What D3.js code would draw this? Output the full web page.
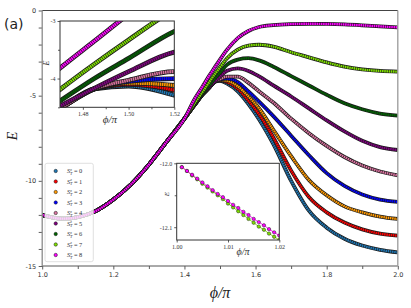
<!DOCTYPE html>
<meta charset="utf-8">
<html>
<head>
<style>
  body { margin: 0; background: #fff; }
  svg text { font-family: "DejaVu Sans", sans-serif; }
  .math { font-family: "Liberation Serif", "DejaVu Serif", serif; }
</style>
<script src="https://cdn.jsdelivr.net/npm/d3@7"></script>
</head>
<body>
<script>

// ---- data ----
var spins = [0, 1, 2, 3, 4, 5, 6, 7, 8];
var colors = ["#1f77b4", "#ff0000", "#ff9900", "#0000ff", "#d8739f", "#800080", "#006400", "#7fe000", "#ff00ff"];

// shared branch, all S values lie on top of each other here
var phiRise = [1.00, 1.03, 1.055, 1.08, 1.11, 1.15, 1.20, 1.25, 1.30, 1.35, 1.40];
var eRise   = [-12.0, -12.16, -12.22, -12.2, -12.08, -11.78, -11.1, -10.2, -9.05, -7.7, -6.35];

// after the branches split
var phiSplit = [1.43, 1.45, 1.47, 1.485, 1.50, 1.52, 1.55, 1.58, 1.61, 1.65, 1.70, 1.75, 1.80, 1.85, 1.90, 1.95, 2.00];
var eS0 = [-5.5, -4.95, -4.52, -4.18, -4.13, -4.29, -4.75, -5.5, -6.4, -7.85, -10.0, -11.75, -12.75, -13.4, -13.8, -14.05, -14.2];
var eS1 = [-5.5, -4.95, -4.52, -4.18, -4.1, -4.2, -4.6, -5.3, -6.1, -7.45, -9.4, -10.95, -11.85, -12.45, -12.85, -13.1, -13.22];
var eS2 = [-5.5, -4.95, -4.52, -4.18, -4.08, -4.12, -4.45, -5.05, -5.75, -7.0, -8.55, -9.95, -10.85, -11.5, -11.85, -12.1, -12.24];
var eS3 = [-5.5, -4.95, -4.52, -4.18, -4.05, -4.0, -4.2, -4.75, -5.35, -6.2, -7.35, -8.5, -9.55, -10.3, -10.8, -11.1, -11.23];
var eS4 = [-5.5, -4.95, -4.52, -4.18, -4.03, -3.88, -3.88, -4.25, -4.75, -5.4, -6.35, -7.2, -7.95, -8.6, -9.1, -9.45, -9.68];
var eS5 = [-5.5, -4.95, -4.48, -4.17, -3.88, -3.54, -3.4, -3.55, -3.87, -4.4, -5.05, -5.75, -6.45, -7.1, -7.65, -8.02, -8.19];
var eS6 = [-5.45, -4.9, -4.39, -4.0, -3.65, -3.18, -2.88, -2.8, -2.93, -3.3, -3.85, -4.4, -4.95, -5.45, -5.8, -6.05, -6.17];
var eS7 = [-5.4, -4.8, -4.19, -3.75, -3.33, -2.8, -2.3, -2.06, -2.01, -2.12, -2.45, -2.75, -3.05, -3.3, -3.46, -3.55, -3.59];
var eS8 = [-5.15, -4.5, -3.82, -3.35, -2.88, -2.3, -1.62, -1.2, -0.97, -0.86, -0.8, -0.78, -0.79, -0.82, -0.87, -0.93, -0.99];
var eSeries = [eS0, eS1, eS2, eS3, eS4, eS5, eS6, eS7, eS8];

// lower-right inset: first points near phi/pi = 1
var phiZoom = [1.001, 1.002, 1.003, 1.004, 1.005, 1.006, 1.007, 1.008, 1.009, 1.010,
               1.011, 1.012, 1.013, 1.014, 1.015, 1.016, 1.017, 1.018, 1.019, 1.020];
var eZoomS8 = [-12.006, -12.012, -12.018, -12.024, -12.030, -12.036, -12.042, -12.048, -12.053, -12.059,
               -12.065, -12.070, -12.076, -12.081, -12.087, -12.092, -12.097, -12.103, -12.108, -12.113];
var eZoomS7 = [-12.006, -12.012, -12.019, -12.025, -12.032, -12.038, -12.044, -12.050, -12.056, -12.063,
               -12.069, -12.075, -12.081, -12.087, -12.093, -12.099, -12.104, -12.110, -12.115, -12.120];

var xTicks = [1.0, 1.2, 1.4, 1.6, 1.8, 2.0];
var xMinor = [1.1, 1.3, 1.5, 1.7, 1.9];
var yTicks = [0, -5, -10, -15];
var yMinor = [-1, -2, -3, -4, -6, -7, -8, -9, -11, -12, -13, -14];

// ---- layout ----
var width = 411, height = 308;
var svg = d3.select("body").append("svg")
    .attr("width", width)
    .attr("height", height);

var x = d3.scaleLinear().domain([1, 2]).range([42.2, 397.8]);
var y = d3.scaleLinear().domain([-15, 0]).range([266, 10.5]);

function seriesPoints(i) {
    var a = phiRise.map(function(p, k) { return [p, eRise[k]]; });
    var b = phiSplit.map(function(p, k) { return [p, eSeries[i][k]]; });
    return a.concat(b);
}

function styleAxis(g, size) {
    g.select(".domain").remove();
    g.selectAll(".tick line").attr("stroke", "#333").attr("stroke-width", 0.8);
    g.selectAll(".tick text").attr("fill", "#333").attr("font-size", size);
}

// draws the thick "marker chain" look of each series
function drawBands(g, xs, ys, outer, inner) {
    var line = d3.line()
        .x(function(d) { return xs(d[0]); })
        .y(function(d) { return ys(d[1]); })
        .curve(d3.curveMonotoneX);
    spins.forEach(function(s, i) {
        var pts = seriesPoints(i);
        g.append("path").attr("d", line(pts))
            .attr("fill", "none").attr("stroke", "#1a1a1a").attr("stroke-width", outer);
        g.append("path").attr("d", line(pts))
            .attr("fill", "none").attr("stroke", colors[i]).attr("stroke-width", inner)
            .attr("stroke-dasharray", "1.6,0.6");
    });
}

// ---- main panel ----
svg.append("clipPath").attr("id", "clipMain").append("rect")
    .attr("x", x(1)).attr("y", y(0))
    .attr("width", x(2) - x(1)).attr("height", y(-15) - y(0));

var main = svg.append("g").attr("clip-path", "url(#clipMain)");
drawBands(main, x, y, 3.8, 2.4);

// axes
var gx = svg.append("g").attr("transform", "translate(0," + y(-15) + ")")
    .call(d3.axisBottom(x).tickValues(xTicks).tickSize(3.5).tickPadding(2.5).tickFormat(d3.format(".1f")));
styleAxis(gx, 6.5);
var gxm = svg.append("g").attr("transform", "translate(0," + y(-15) + ")")
    .call(d3.axisBottom(x).tickValues(xMinor).tickSize(3).tickFormat(""));
styleAxis(gxm, 6.5);

var gy = svg.append("g").attr("transform", "translate(" + x(1) + ",0)")
    .call(d3.axisLeft(y).tickValues(yTicks).tickSize(3.5).tickPadding(2.5).tickFormat(function(d) { return String(d); }));
styleAxis(gy, 6.5);
var gym = svg.append("g").attr("transform", "translate(" + x(1) + ",0)")
    .call(d3.axisLeft(y).tickValues(yMinor).tickSize(3.5).tickFormat(""));
styleAxis(gym, 6.5);

// spines
svg.append("line").attr("x1", x(1)).attr("x2", x(2)).attr("y1", y(0)).attr("y2", y(0))
    .attr("stroke", "#444").attr("stroke-width", 1);
svg.append("line").attr("x1", x(1)).attr("x2", x(2)).attr("y1", y(-15)).attr("y2", y(-15))
    .attr("stroke", "#555").attr("stroke-width", 1);
svg.append("line").attr("x1", x(1)).attr("x2", x(1)).attr("y1", y(0)).attr("y2", y(-15))
    .attr("stroke", "#8a8a8a").attr("stroke-width", 1.3);
svg.append("line").attr("x1", x(2)).attr("x2", x(2)).attr("y1", y(0)).attr("y2", y(-15))
    .attr("stroke", "#9a9a9a").attr("stroke-width", 1.3);

// axis titles
svg.append("text").attr("class", "math")
    .attr("transform", "translate(17,136) rotate(-90)")
    .attr("text-anchor", "middle").attr("font-size", 14).attr("font-style", "italic")
    .attr("fill", "#222").text("E");
svg.append("text").attr("class", "math")
    .attr("x", 220).attr("y", 298)
    .attr("text-anchor", "middle").attr("font-size", 16).attr("font-style", "italic")
    .attr("fill", "#222").text("ϕ/π");
svg.append("text").attr("x", 4).attr("y", 29)
    .attr("font-size", 14).attr("fill", "#222").text("(a)");

// ---- legend ----
var legend = svg.append("g");
legend.append("rect")
    .attr("x", 45).attr("y", 163.3).attr("width", 48.3).attr("height", 98.4)
    .attr("rx", 2).attr("fill", "#fff").attr("fill-opacity", 0.8)
    .attr("stroke", "#d8d8d8").attr("stroke-width", 0.8);
spins.forEach(function(s, i) {
    var ry = 171 + i * 10.5;
    legend.append("circle").attr("cx", 55.7).attr("cy", ry).attr("r", 1.7)
        .attr("fill", colors[i]).attr("stroke", "#111").attr("stroke-width", 0.5);
    var t = legend.append("text").attr("class", "math")
        .attr("x", 67).attr("y", ry + 2).attr("font-size", 6.4).attr("fill", "#333");
    t.append("tspan").attr("font-style", "italic").text("S");
    t.append("tspan").attr("font-size", 4.3).attr("font-style", "italic").attr("dy", -2.4).text("z");
    t.append("tspan").attr("font-size", 4.3).attr("font-style", "italic").attr("dx", -2).attr("dy", 4.2).text("T");
    t.append("tspan").attr("dy", -1.8).text(" = " + s);
});

// ---- upper-left inset ----
var ix = d3.scaleLinear().domain([1.47, 1.52]).range([60, 174.3]);
var iy = d3.scaleLinear().domain([-4.5, -3]).range([107.3, 21]);

svg.append("rect").attr("x", 60).attr("y", 21).attr("width", 114.3).attr("height", 86.3).attr("fill", "#fff");
svg.append("clipPath").attr("id", "clipIn1").append("rect")
    .attr("x", 60).attr("y", 21).attr("width", 114.3).attr("height", 86.3);
var in1 = svg.append("g").attr("clip-path", "url(#clipIn1)");
drawBands(in1, ix, iy, 4.8, 3.2);
svg.append("rect").attr("x", 60).attr("y", 21).attr("width", 114.3).attr("height", 86.3)
    .attr("fill", "none").attr("stroke", "#333").attr("stroke-width", 1);

var i1x = svg.append("g").attr("transform", "translate(0,107.3)")
    .call(d3.axisBottom(ix).tickValues([1.48, 1.50, 1.52]).tickSize(2.5).tickPadding(2).tickFormat(d3.format(".2f")));
styleAxis(i1x, 6);
i1x.selectAll("text").attr("class", "math");
var i1xm = svg.append("g").attr("transform", "translate(0,107.3)")
    .call(d3.axisBottom(ix).tickValues([1.49, 1.51]).tickSize(2).tickFormat(""));
styleAxis(i1xm, 6);
var i1y = svg.append("g").attr("transform", "translate(60,0)")
    .call(d3.axisLeft(iy).tickValues([-3, -4]).tickSize(2.5).tickPadding(2).tickFormat(function(d) { return String(d); }));
styleAxis(i1y, 6);
i1y.selectAll("text").attr("class", "math");
var i1ym = svg.append("g").attr("transform", "translate(60,0)")
    .call(d3.axisLeft(iy).tickValues([-3.5, -4.5]).tickSize(2).tickFormat(""));
styleAxis(i1ym, 6);
svg.append("text").attr("class", "math")
    .attr("transform", "translate(49,63) rotate(-90)")
    .attr("text-anchor", "middle").attr("font-size", 8).attr("font-style", "italic")
    .attr("fill", "#333").text("E");
svg.append("text").attr("class", "math")
    .attr("x", 110).attr("y", 123)
    .attr("text-anchor", "middle").attr("font-size", 11).attr("font-style", "italic")
    .attr("fill", "#333").text("ϕ/π");

// ---- lower-right inset ----
var bx = d3.scaleLinear().domain([1.0, 1.02]).range([176.7, 279.3]);
var by = d3.scaleLinear().domain([-12.12, -12.0]).range([240, 163.3]);

svg.append("rect").attr("x", 176.7).attr("y", 163.3).attr("width", 102.6).attr("height", 76.7).attr("fill", "#fff");
svg.append("clipPath").attr("id", "clipIn2").append("rect")
    .attr("x", 176.7).attr("y", 163.3).attr("width", 102.6).attr("height", 76.7);
var in2 = svg.append("g").attr("clip-path", "url(#clipIn2)");
var zoomSets = [[7, eZoomS7], [8, eZoomS8]];
zoomSets.forEach(function(z) {
    var pts = phiZoom.map(function(p, k) { return [p, z[1][k]]; });
    in2.append("path")
        .attr("d", d3.line().x(function(d) { return bx(d[0]); }).y(function(d) { return by(d[1]); })(pts))
        .attr("fill", "none").attr("stroke", colors[z[0]]).attr("stroke-width", 0.9);
    in2.selectAll(null).data(pts).enter().append("circle")
        .attr("cx", function(d) { return bx(d[0]); })
        .attr("cy", function(d) { return by(d[1]); })
        .attr("r", 1.7)
        .attr("fill", colors[z[0]]).attr("stroke", "#222").attr("stroke-width", 0.5);
});
svg.append("rect").attr("x", 176.7).attr("y", 163.3).attr("width", 102.6).attr("height", 76.7)
    .attr("fill", "none").attr("stroke", "#333").attr("stroke-width", 1);

var i2x = svg.append("g").attr("transform", "translate(0,240)")
    .call(d3.axisBottom(bx).tickValues([1.00, 1.01, 1.02]).tickSize(2.5).tickPadding(2).tickFormat(d3.format(".2f")));
styleAxis(i2x, 6);
i2x.selectAll("text").attr("class", "math");
var i2y = svg.append("g").attr("transform", "translate(176.7,0)")
    .call(d3.axisLeft(by).tickValues([-12.0, -12.1]).tickSize(2.5).tickPadding(2).tickFormat(function(d) { return d3.format(".1f")(d).replace("−", "-"); }));
styleAxis(i2y, 6);
i2y.selectAll("text").attr("class", "math");
var i2ym = svg.append("g").attr("transform", "translate(176.7,0)")
    .call(d3.axisLeft(by).tickValues([-12.05]).tickSize(2).tickFormat(""));
styleAxis(i2ym, 6);
svg.append("text").attr("class", "math")
    .attr("transform", "translate(169,194) rotate(-90)")
    .attr("text-anchor", "middle").attr("font-size", 7).attr("font-style", "italic")
    .attr("fill", "#333").text("E");
svg.append("text").attr("class", "math")
    .attr("x", 243).attr("y", 255)
    .attr("text-anchor", "middle").attr("font-size", 10).attr("font-style", "italic")
    .attr("fill", "#333").text("ϕ/π");

</script>
</body>
</html>
